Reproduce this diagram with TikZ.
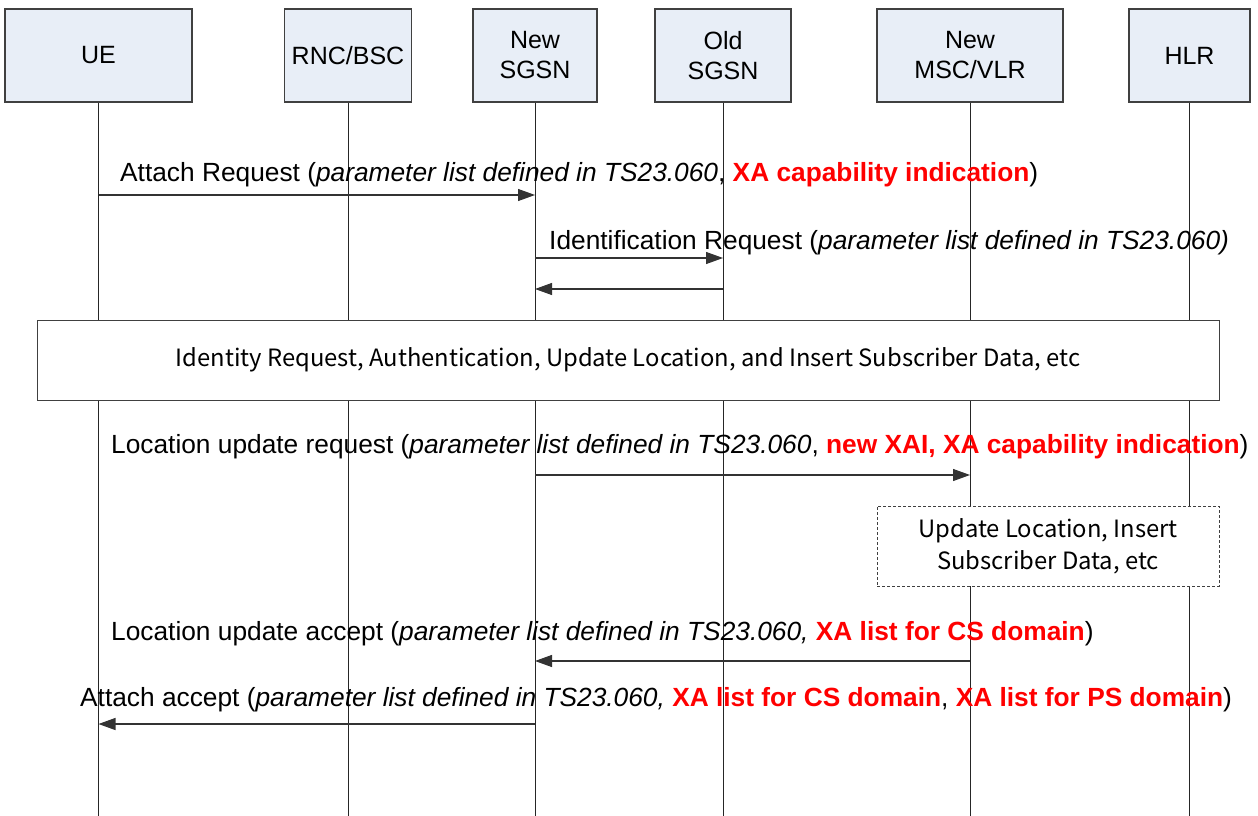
\documentclass[tikz,border=0pt]{standalone}
\usepackage{fontspec}
\setmainfont{Liberation Sans}
\newfontfamily\gothic{Noto Sans CJK JP}
\usetikzlibrary{arrows.meta}
\definecolor{hdrfill}{RGB}{232,238,247}
\definecolor{hdrline}{RGB}{64,64,64}
\definecolor{msgred}{RGB}{255,0,0}
\tikzset{
  x=1pt, y=-1pt,
  hdr/.style={draw=hdrline, line width=1.2pt, fill=hdrfill, align=center,
    inner sep=0pt, minimum height=93pt,
    font=\fontsize{25}{30}\selectfont},
  lifeline/.style={draw=black!85, line width=0.9pt},
  msg/.style={draw=black!80, line width=1.1pt,
    -{Triangle[length=17pt, width=12pt]}},
  msglabel/.style={anchor=west, inner sep=0pt, font=\fontsize{26.3}{30}\selectfont},
  phase/.style={draw=hdrline, line width=1pt, fill=white, inner sep=0pt,
    align=center, font=\gothic\fontsize{23.8}{32}\selectfont},
}
\newcommand{\hl}[1]{\textcolor{msgred}{\textbf{#1}}}
\begin{document}
\begin{tikzpicture}
\useasboundingbox (0,0) rectangle (1258,816);
\fill[white] (0,0) rectangle (1258,816);

% participants
\node[hdr, minimum width=187pt] (ue)   at (98.5,55.5)  {UE};
\node[hdr, minimum width=127pt] (rnc)  at (348,55.5)   {RNC/BSC};
\node[hdr, minimum width=124pt] (nsg)  at (535,55.5)   {New\\SGSN};
\node[hdr, minimum width=136pt] (osg)  at (723,55.5)   {Old\\SGSN};
\node[hdr, minimum width=186pt] (msc)  at (970,55.5)   {New\\MSC/VLR};
\node[hdr, minimum width=121pt] (hlr)  at (1189.5,55.5){HLR};

% lifeline ends
\coordinate (bottom) at (0,816);
\foreach \p in {ue,rnc,nsg,osg,msc,hlr}{
  \coordinate (\p-end) at (\p.south |- bottom);
  \draw[lifeline] (\p.south) -- (\p-end);
}

% message end points on the lifelines
\coordinate (m1a) at (ue.south |- 0,195);   \coordinate (m1b) at (nsg.south |- 0,195);
\coordinate (m2a) at (nsg.south |- 0,258);  \coordinate (m2b) at (osg.south |- 0,258);
\coordinate (m3a) at (osg.south |- 0,289);  \coordinate (m3b) at (nsg.south |- 0,289);
\coordinate (m4a) at (nsg.south |- 0,475);  \coordinate (m4b) at (msc.south |- 0,475);
\coordinate (m5a) at (msc.south |- 0,661);  \coordinate (m5b) at (nsg.south |- 0,661);
\coordinate (m6a) at (nsg.south |- 0,724);  \coordinate (m6b) at (ue.south |- 0,724);

% messages
\draw[msg] (m1a) -- (m1b);
\node[msglabel] (l1) at (120,175)
  {Attach Request (\textit{parameter list defined in TS23.060},
   \hl{XA capability indication})};

\draw[msg] (m2a) -- (m2b);
\node[msglabel] (l2) at (549,243)
  {Identification Request (\textit{parameter list defined in TS23.060)}};

\draw[msg] (m3a) -- (m3b);

% common procedures
\node[phase, minimum width=1182pt, minimum height=80pt] (proc) at (628,360)
  {Identity Request, Authentication, Update Location, and Insert Subscriber Data, etc};

\draw[msg] (m4a) -- (m4b);
\node[msglabel] (l4) at (111,447)
  {Location update request (\textit{parameter list defined in TS23.060},
   \hl{new XAI, XA capability indication})};

\node[phase, dash pattern=on 3pt off 2pt, line width=0.9pt,
      minimum width=342pt, minimum height=80pt] (upd) at (1048,546)
  {Update Location, Insert\\Subscriber Data, etc};

\draw[msg] (m5a) -- (m5b);
\node[msglabel] (l5) at (111,634)
  {Location update accept (\textit{parameter list defined in TS23.060,}
   \hl{XA list for CS domain})};

\draw[msg] (m6a) -- (m6b);
\node[msglabel] (l6) at (80,700)
  {Attach accept (\textit{parameter list defined in TS23.060,}
   \hl{XA list for CS domain}, \hl{XA list for PS domain})};
\end{tikzpicture}
\end{document}
